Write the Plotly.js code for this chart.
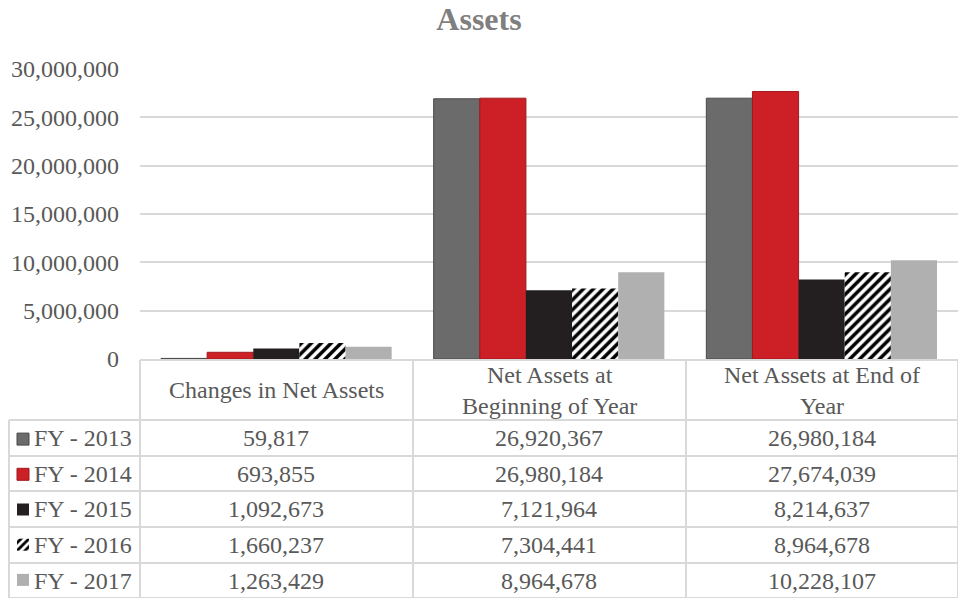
<!DOCTYPE html>
<html>
<head>
<meta charset="utf-8">
<script src="https://cdn.plot.ly/plotly-3.0.1.min.js"></script>
<style>html,body{margin:0;padding:0;background:#fff;}#chart{width:958px;height:598px;}</style>
</head>
<body>
<div id="chart"></div>
<script>
// ---- data ----
const categories = ["Changes in Net Assets", "Net Assets at Beginning of Year", "Net Assets at End of Year"];
const headerLabels = ["Changes in Net Assets", "Net Assets at<br>Beginning of Year", "Net Assets at End of<br>Year"];
const seriesNames = ["FY - 2013", "FY - 2014", "FY - 2015", "FY - 2016", "FY - 2017"];
const fy2013 = [59817, 26920367, 26980184];
const fy2014 = [693855, 26980184, 27674039];
const fy2015 = [1092673, 7121964, 8214637];
const fy2016 = [1660237, 7304441, 8964678];
const fy2017 = [1263429, 8964678, 10228107];
const yTicks = [0, 5000000, 10000000, 15000000, 20000000, 25000000, 30000000];

// ---- styles ----
const seriesValues = [fy2013, fy2014, fy2015, fy2016, fy2017];
const markers = [
  {color: "#6b6b6b", line: {color: "#4a4a4a", width: 1}},
  {color: "#cc1f26", line: {color: "#9e1a1f", width: 1}},
  {color: "#231f20", line: {width: 0}},
  {color: "#ffffff", pattern: {shape: "/", fgcolor: "#000000", bgcolor: "#ffffff", size: 7, solidity: 0.5}, line: {width: 0}},
  {color: "#b0b0b0", line: {width: 0}}
];
const FONT = "Liberation Serif, Times New Roman, serif";
const TXT = "#595959";

const W = 958, H = 598, ML = 140, MR = 0, MT = 69, MB = 239;
const plotW = W - ML - MR, plotH = H - MT - MB;
const px2x = p => (p - ML) / plotW;
const py2y = p => (H - MB - p) / plotH;

// legend shows only the swatches; row labels are drawn as annotations
const traces = seriesNames.map((n, i) => ({
  type: "bar",
  name: "\u00a0",
  x: categories,
  y: seriesValues[i],
  marker: markers[i],
  legendgroup: "g" + i,
  hovertemplate: n + ": %{y:,}<extra></extra>"
}));

// table geometry (pixels)
const rowLines = [420, 456, 491, 527, 563, 598];
const colLines = [140, 413, 686, 958];
const lineColor = "#d9d9d9";
const shapes = [];
shapes.push({type: "line", xref: "paper", yref: "paper", x0: px2x(140), x1: px2x(958), y0: py2y(360), y1: py2y(360), line: {color: lineColor, width: 2}});
rowLines.forEach(r => shapes.push({type: "line", xref: "paper", yref: "paper", x0: px2x(9), x1: px2x(958), y0: py2y(r), y1: py2y(r), line: {color: lineColor, width: 2}}));
colLines.forEach(c => shapes.push({type: "line", xref: "paper", yref: "paper", x0: px2x(c), x1: px2x(c), y0: py2y(360), y1: py2y(598), line: {color: lineColor, width: 2}}));
shapes.push({type: "line", xref: "paper", yref: "paper", x0: px2x(9), x1: px2x(9), y0: py2y(420), y1: py2y(598), line: {color: lineColor, width: 2}});

const annotations = [];
categories.forEach((c, j) => {
  annotations.push({xref: "x", yref: "paper", x: c, y: py2y(390), text: headerLabels[j], showarrow: false,
    font: {family: FONT, size: 24, color: TXT}, xanchor: "center", yanchor: "middle"});
});
const rowCenters = [438, 473.5, 509, 545, 580.5];
seriesValues.forEach((vals, i) => {
  annotations.push({xref: "paper", yref: "paper", x: px2x(32), y: py2y(rowCenters[i]), text: seriesNames[i],
    showarrow: false, font: {family: FONT, size: 24, color: TXT}, xanchor: "left", yanchor: "middle"});
  vals.forEach((v, j) => {
    annotations.push({xref: "x", yref: "paper", x: categories[j], y: py2y(rowCenters[i]), text: v.toLocaleString("en-US"),
      showarrow: false, font: {family: FONT, size: 24, color: TXT}, xanchor: "center", yanchor: "middle"});
  });
});

const layout = {
  width: W, height: H,
  margin: {l: ML, r: MR, t: MT, b: MB, autoexpand: false},
  paper_bgcolor: "#ffffff", plot_bgcolor: "#ffffff",
  title: {text: "<b>Assets</b>", x: 0.5, xref: "container", xanchor: "center", y: 1 - 19 / H, yanchor: "middle",
    font: {family: FONT, size: 32, color: "#7f7f7f"}},
  barmode: "group", bargap: 0.154, bargroupgap: 0,
  xaxis: {type: "category", showticklabels: false, ticks: "", showgrid: false, showline: true, linecolor: lineColor, linewidth: 2, zeroline: false, fixedrange: true},
  yaxis: {range: [0, 30000000], tickvals: yTicks, tickformat: ",", showgrid: true, gridcolor: "#d9d9d9", gridwidth: 2, zeroline: false,
    ticks: "", ticklen: 0, tickfont: {family: FONT, size: 24, color: TXT}, ticklabelstandoff: 20, fixedrange: true},
  showlegend: true,
  legend: {x: px2x(3), xanchor: "left", y: py2y(417), yanchor: "top", traceorder: "grouped", tracegroupgap: 1,
    font: {family: FONT, size: 24, color: TXT}, bgcolor: "rgba(0,0,0,0)", itemclick: false, itemdoubleclick: false},
  shapes: shapes,
  annotations: annotations
};

Plotly.newPlot("chart", traces, layout, {displayModeBar: false, staticPlot: true});
</script>
</body>
</html>
